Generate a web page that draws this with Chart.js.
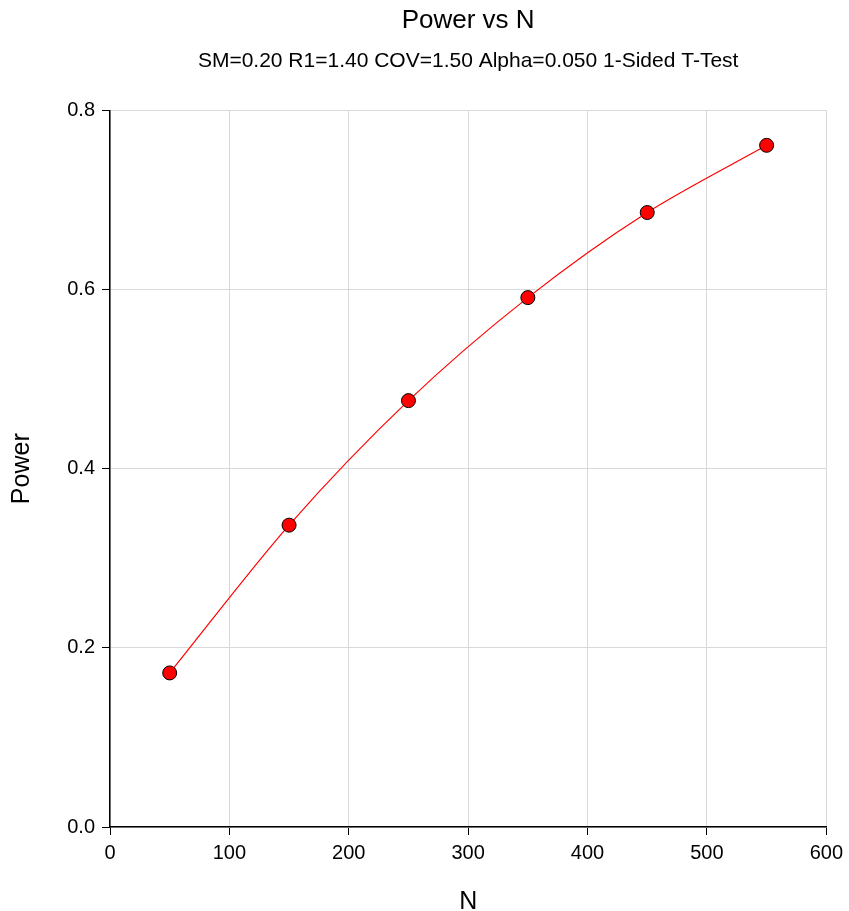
<!DOCTYPE html>
<html>
<head>
<meta charset="utf-8">
<title>Power vs N</title>
<script src="https://cdn.jsdelivr.net/npm/chart.js@4"></script>
<style>
  body { margin: 0; background: #fff; }
</style>
</head>
<body>
<canvas id="graficoPower" width="849" height="911"></canvas>
<script>
// datos del grafico
const valoresN = [50, 150, 250, 350, 450, 550];
const valoresPower = [0.172, 0.337, 0.476, 0.591, 0.686, 0.761];
const ticksX = [0, 100, 200, 300, 400, 500, 600];
const ticksY = [0.0, 0.2, 0.4, 0.6, 0.8];

const fuente = "'Liberation Sans', Arial, sans-serif";

const puntos = valoresN.map((n, i) => ({ x: n, y: valoresPower[i] }));

function crearGrafico() {
  const ctx = document.getElementById('graficoPower').getContext('2d');
  new Chart(ctx, {
    type: 'line',
    data: {
      datasets: [{
        data: puntos,
        borderColor: '#ff0000',
        borderWidth: 1.2,
        backgroundColor: '#ff0000',
        pointBackgroundColor: '#ff0000',
        pointBorderColor: '#000000',
        pointBorderWidth: 1,
        pointRadius: 7,
        tension: 0.3,
        fill: false
      }]
    },
    options: {
      responsive: false,
      animation: false,
      layout: { padding: { top: 5, right: 22, bottom: 0, left: 0 } },
      plugins: {
        legend: { display: false },
        tooltip: { enabled: false },
        // titulos centrados sobre el area del grafico
        title: {
          display: true,
          fullSize: false,
          text: 'Power vs N',
          color: '#000',
          font: { family: fuente, size: 26, weight: 'normal' },
          padding: { top: 0, bottom: 12 }
        },
        subtitle: {
          display: true,
          fullSize: false,
          text: 'SM=0.20 R1=1.40 COV=1.50 Alpha=0.050 1-Sided T-Test',
          color: '#000',
          font: { family: fuente, size: 21, weight: 'normal' },
          padding: { top: 0, bottom: 37 }
        }
      },
      scales: {
        x: {
          type: 'linear',
          min: 0,
          max: 600,
          afterBuildTicks: (scale) => { scale.ticks = ticksX.map(v => ({ value: v })); },
          afterFit: (scale) => { scale.height = 84; },
          grid: { color: '#d9d9d9', tickColor: '#000', tickLength: 8 },
          border: { color: '#000', width: 1.5 },
          ticks: {
            color: '#000',
            font: { family: fuente, size: 20 },
            padding: 6
          },
          title: {
            display: true,
            text: 'N',
            color: '#000',
            font: { family: fuente, size: 25, lineHeight: 0.7 },
            padding: { top: 0, bottom: 0 }
          }
        },
        y: {
          type: 'linear',
          min: 0,
          max: 0.8,
          afterBuildTicks: (scale) => { scale.ticks = ticksY.map(v => ({ value: v })); },
          afterFit: (scale) => { scale.width = 110; },
          grid: { color: '#d9d9d9', tickColor: '#000', tickLength: 8 },
          border: { color: '#000', width: 1.5 },
          ticks: {
            color: '#000',
            font: { family: fuente, size: 20 },
            padding: 7,
            callback: (v) => Number(v).toFixed(1)
          },
          title: {
            display: true,
            text: 'Power',
            color: '#000',
            font: { family: fuente, size: 25 },
            padding: { top: 7, bottom: 0 }
          }
        }
      }
    }
  });
}

window.onload = () => {
  crearGrafico();
};
</script>
</body>
</html>
